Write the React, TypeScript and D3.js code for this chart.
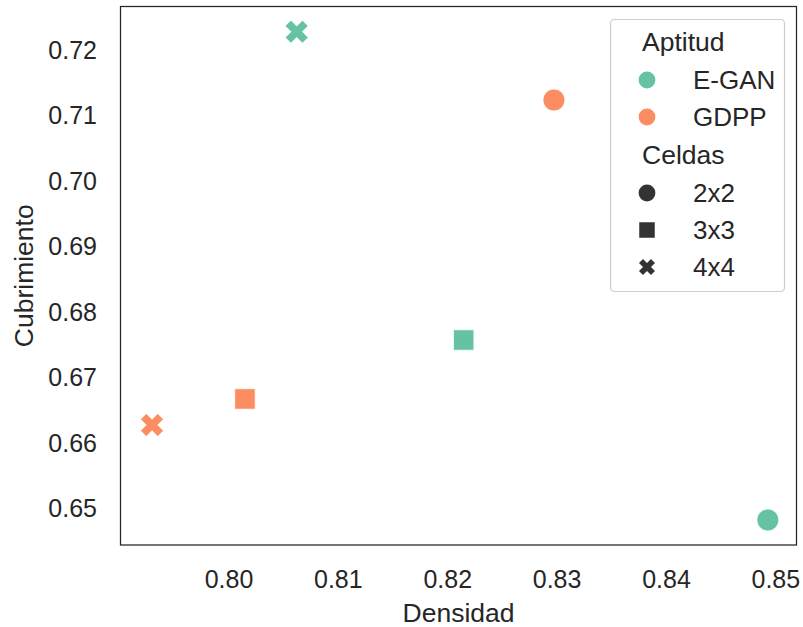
import React from "react";
import * as d3 from "d3";

const labels = ["E-GAN 2x2", "E-GAN 3x3", "E-GAN 4x4", "GDPP 2x2", "GDPP 3x3", "GDPP 4x4"];
const aptitud = ["E-GAN", "E-GAN", "E-GAN", "GDPP", "GDPP", "GDPP"];
const celdas = ["2x2", "3x3", "4x4", "2x2", "3x3", "4x4"];
const densidad = [0.84927, 0.82146, 0.80619, 0.82971, 0.80146, 0.79296];
const cubrimiento = [0.6482, 0.67568, 0.72275, 0.71232, 0.66668, 0.6627];
const xTicks = [0.80, 0.81, 0.82, 0.83, 0.84, 0.85];
const yTicks = [0.65, 0.66, 0.67, 0.68, 0.69, 0.70, 0.71, 0.72];
const aptitudLevels = ["E-GAN", "GDPP"];
const celdasLevels = ["2x2", "3x3", "4x4"];

const W = 803, H = 627;
const L = 120.5, R = 796.5, T = 6.5, B = 545;
const FONT = "'Liberation Sans', Arial, sans-serif";
const TXT = "#262626";

const colorScale = d3.scaleOrdinal<string, string>().domain(aptitudLevels).range(["#66c2a5", "#fc8d62"]);

// area per marker kind (plot / legend)
const plotArea: Record<string, number> = { "2x2": Math.PI * 11 * 11, "3x3": 20.5 * 20.5, "4x4": 331 };
const legArea: Record<string, number> = { "2x2": Math.PI * 8.4 * 8.4, "3x3": 15.5 * 15.5, "4x4": 160 };

function markerPath(kind: string, area: number): string {
  const t = kind === "2x2" ? d3.symbolCircle : kind === "3x3" ? d3.symbolSquare : d3.symbolCross;
  return d3.symbol(t, area)()!;
}
function markerRot(kind: string) {
  return kind === "4x4" ? " rotate(45)" : "";
}

export default function App() {
  const x = d3.scaleLinear().domain([0.79008, 0.85189]).range([L, R]);
  const y = d3.scaleLinear().domain([0.64438, 0.7266]).range([B, T]);

  const legX = 610.5, legY = 19.5, legW = 174, legH = 272;
  const rowY = [41, 80, 117, 154, 193, 230, 267];

  return (
    <svg width={W} height={H} style={{ position: "absolute", left: 0, top: 0, background: "#fff" }} fontFamily={FONT}>
      <rect x={0} y={0} width={W} height={H} fill="#fff" />
      {xTicks.map((t) => (
        <text key={"xt" + t} x={x(t)} y={588} textAnchor="middle" fontSize={25} fill={TXT}>
          {t.toFixed(2)}
        </text>
      ))}
      {yTicks.map((t) => (
        <text key={"yt" + t} x={97} y={y(t)} dy="0.36em" textAnchor="end" fontSize={25} fill={TXT}>
          {t.toFixed(2)}
        </text>
      ))}
      <text x={(L + R) / 2} y={621.5} textAnchor="middle" fontSize={26.5} fill={TXT}>Densidad</text>
      <text transform={`translate(33,${(T + B) / 2}) rotate(-90)`} textAnchor="middle" fontSize={26.5} fill={TXT}>Cubrimiento</text>

      {labels.map((lab, i) => (
        <path
          key={lab}
          d={markerPath(celdas[i], plotArea[celdas[i]])}
          transform={`translate(${x(densidad[i])},${y(cubrimiento[i])})${markerRot(celdas[i])}`}
          fill={colorScale(aptitud[i])}
          stroke="#fff"
          strokeWidth={0.8}
        />
      ))}

      <rect x={L} y={T} width={R - L} height={B - T} fill="none" stroke="#262626" strokeWidth={1.25} />

      <rect x={legX} y={legY} width={legW} height={legH} rx={4} fill="#fff" fillOpacity={0.8} stroke="#cccccc" strokeWidth={1.2} />
      <text x={642} y={rowY[0]} dy="0.36em" fontSize={26.5} fill={TXT}>Aptitud</text>
      {aptitudLevels.map((a, i) => (
        <g key={a}>
          <path d={markerPath("2x2", legArea["2x2"])} transform={`translate(647,${rowY[1 + i]})`} fill={colorScale(a)} />
          <text x={693} y={rowY[1 + i]} dy="0.36em" fontSize={26} fill={TXT}>{a}</text>
        </g>
      ))}
      <text x={642} y={rowY[3]} dy="0.36em" fontSize={26.5} fill={TXT}>Celdas</text>
      {celdasLevels.map((c, i) => (
        <g key={c}>
          <path d={markerPath(c, legArea[c])} transform={`translate(647,${rowY[4 + i]})${markerRot(c)}`} fill="#333333" />
          <text x={693} y={rowY[4 + i]} dy="0.36em" fontSize={26} fill={TXT}>{c}</text>
        </g>
      ))}
    </svg>
  );
}
